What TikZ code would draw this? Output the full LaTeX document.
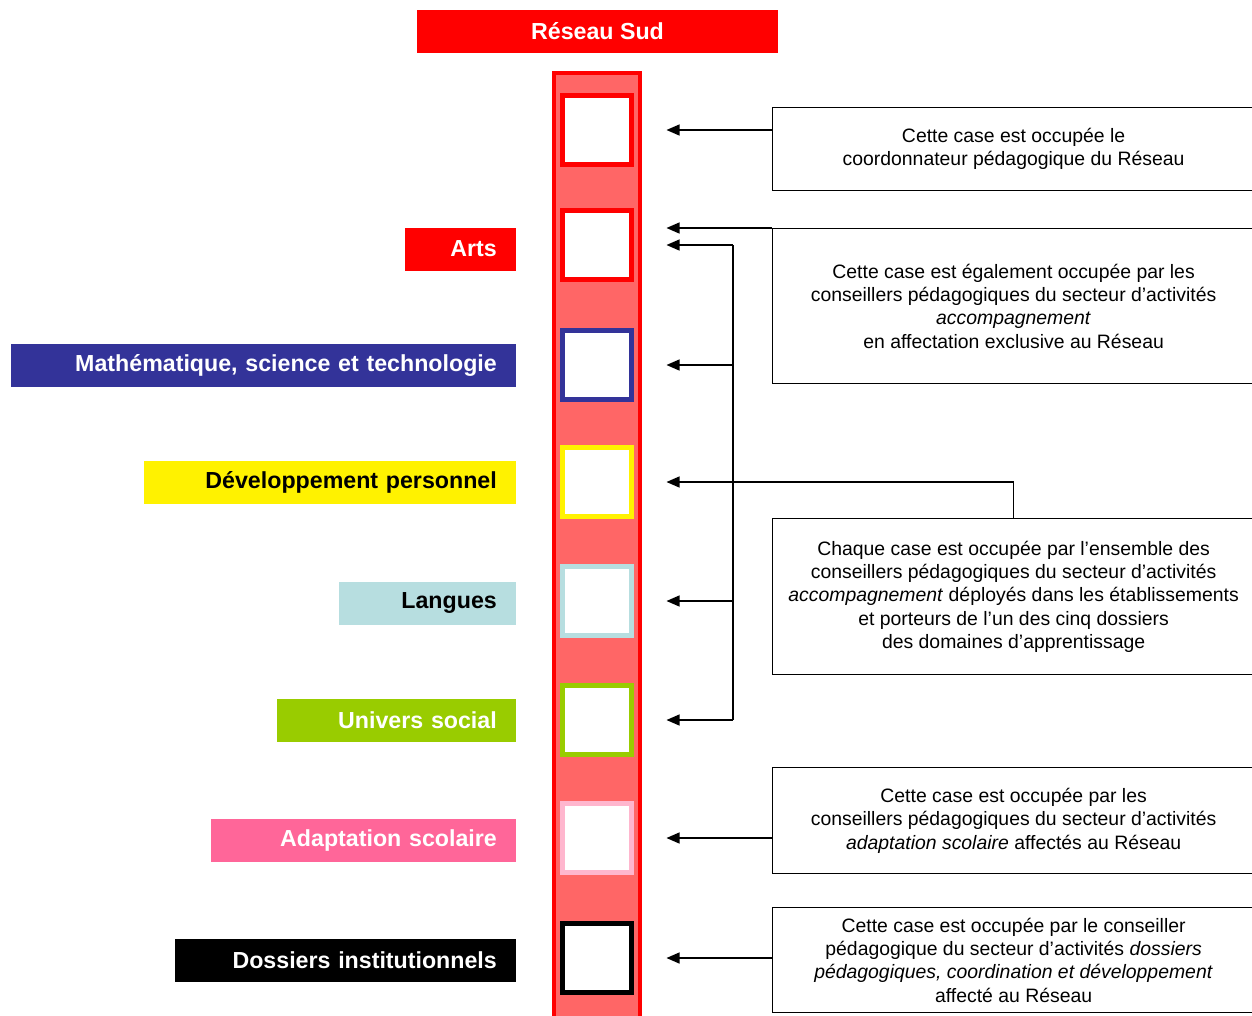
\documentclass[tikz,border=0pt]{standalone}
\usepackage{fontspec}
\setmainfont{Liberation Sans}
\usetikzlibrary{arrows.meta,positioning}
\definecolor{navy}{RGB}{51,51,153}
\definecolor{sky}{RGB}{183,222,224}
\definecolor{lime}{RGB}{153,204,0}
\definecolor{rose}{RGB}{255,102,153}
\definecolor{lightrose}{RGB}{255,182,206}
\definecolor{stripe}{RGB}{255,102,102}

\begin{document}
\begin{tikzpicture}[x=1pt,y=-1pt,node distance=118.3pt,on grid,
    case/.style={draw=#1,line width=5pt,fill=white,minimum size=69pt,inner sep=0pt},
    dom/.style={anchor=east,text width=#1,align=right,inner xsep=19pt,inner ysep=0pt,
      minimum height=43pt,font=\fontsize{23.2}{27}\selectfont\bfseries},
    note/.style={draw,line width=1.2pt,anchor=north west,minimum width=482pt,
      align=center,font=\fontsize{19.4}{23.3}\selectfont},
    arr/.style={-{Triangle[length=13pt,width=11pt]},line width=1.3pt,shorten >=32.5pt}]
   \useasboundingbox (0,0) rectangle (1252,1015);
   \clip (0,0) rectangle (1252,1015);

   \node[fill=red,text=white,minimum width=361pt,minimum height=43pt,
     font=\fontsize{23.2}{27}\selectfont\bfseries] (titre) at (597.5,31.5) {Réseau Sud};
   \draw[red,line width=4pt,fill=stripe] (554,73) rectangle (640,1030);

   \node[case=red] (c1) at (597,130) {};
   \node[case=red] (c2) [below=115pt of c1] {};
   \node[case=navy] (c3) [below=120pt of c2] {};
   \node[case=yellow] (c4) [below=117pt of c3] {};
   \node[case=sky] (c5) [below=119pt of c4] {};
   \node[case=lime] (c6) [below=119pt of c5] {};
   \node[case=lightrose] (c7) [below=118pt of c6] {};
   \node[case=black] (c8) [below=120pt of c7] {};

   \coordinate (bord) at (516,0);
   \node[dom=73pt,fill=red,text=white,yshift=-4pt] (arts) at (c2 -| bord) {Arts};
   \node[dom=467pt,fill=navy,text=white] (math) at (c3 -| bord) {Mathématique, science et technologie};
   \node[dom=334pt,fill=yellow] (dev) at (c4 -| bord) {Développement personnel};
   \node[dom=139pt,fill=sky,yshift=-2pt] (lang) at (c5 -| bord) {Langues};
   \node[dom=201pt,fill=lime,text=white] (univ) at (c6 -| bord) {Univers social};
   \node[dom=267pt,fill=rose,text=white,yshift=-2pt] (adapt) at (c7 -| bord) {Adaptation scolaire};
   \node[dom=303pt,fill=black,text=white,yshift=-2pt] (doss) at (c8 -| bord) {Dossiers institutionnels};

   \node[note,minimum height=83pt,text depth=5pt] (n1) at (772,107)
     {Cette case est occupée le\\coordonnateur pédagogique du Réseau};
   \node[note,minimum height=155pt] (n2) at (772,228)
     {Cette case est également occupée par les\\conseillers pédagogiques du secteur d’activités\\
      \textit{accompagnement}\\en affectation exclusive au Réseau};
   \node[note,minimum height=156pt] (n3) at (772,518)
     {Chaque case est occupée par l’ensemble des\\conseillers pédagogiques du secteur d’activités\\
      \textit{accompagnement} déployés dans les établissements\\et porteurs de l’un des cinq dossiers\\
      des domaines d’apprentissage};
   \node[note,minimum height=106pt] (n4) at (772,767)
     {Cette case est occupée par les\\conseillers pédagogiques du secteur d’activités\\
      \textit{adaptation scolaire} affectés au Réseau};
   \node[note,minimum height=105pt] (n5) at (772,907)
     {Cette case est occupée par le conseiller\\pédagogique du secteur d’activités \textit{dossiers}\\
      \textit{pédagogiques, coordination et développement}\\affecté au Réseau};

   \coordinate (bus) at (733,0);
   \draw[arr] (c1 -| n1.west) -- (c1.east);
   \draw[arr] (n2.north west) -- (n2.north west -| c2.east);
   \draw[arr] (n3.north) |- (c4.east);
   \draw[line width=1.3pt] (c2 -| bus) -- (c6 -| bus);
   \foreach \c in {c2,c3,c5,c6}
     \draw[arr] (\c -| bus) -- (\c.east);
   \draw[arr] (c7 -| n4.west) -- (c7.east);
   \draw[arr] (c8 -| n5.west) -- (c8.east);
\end{tikzpicture}
\end{document}
